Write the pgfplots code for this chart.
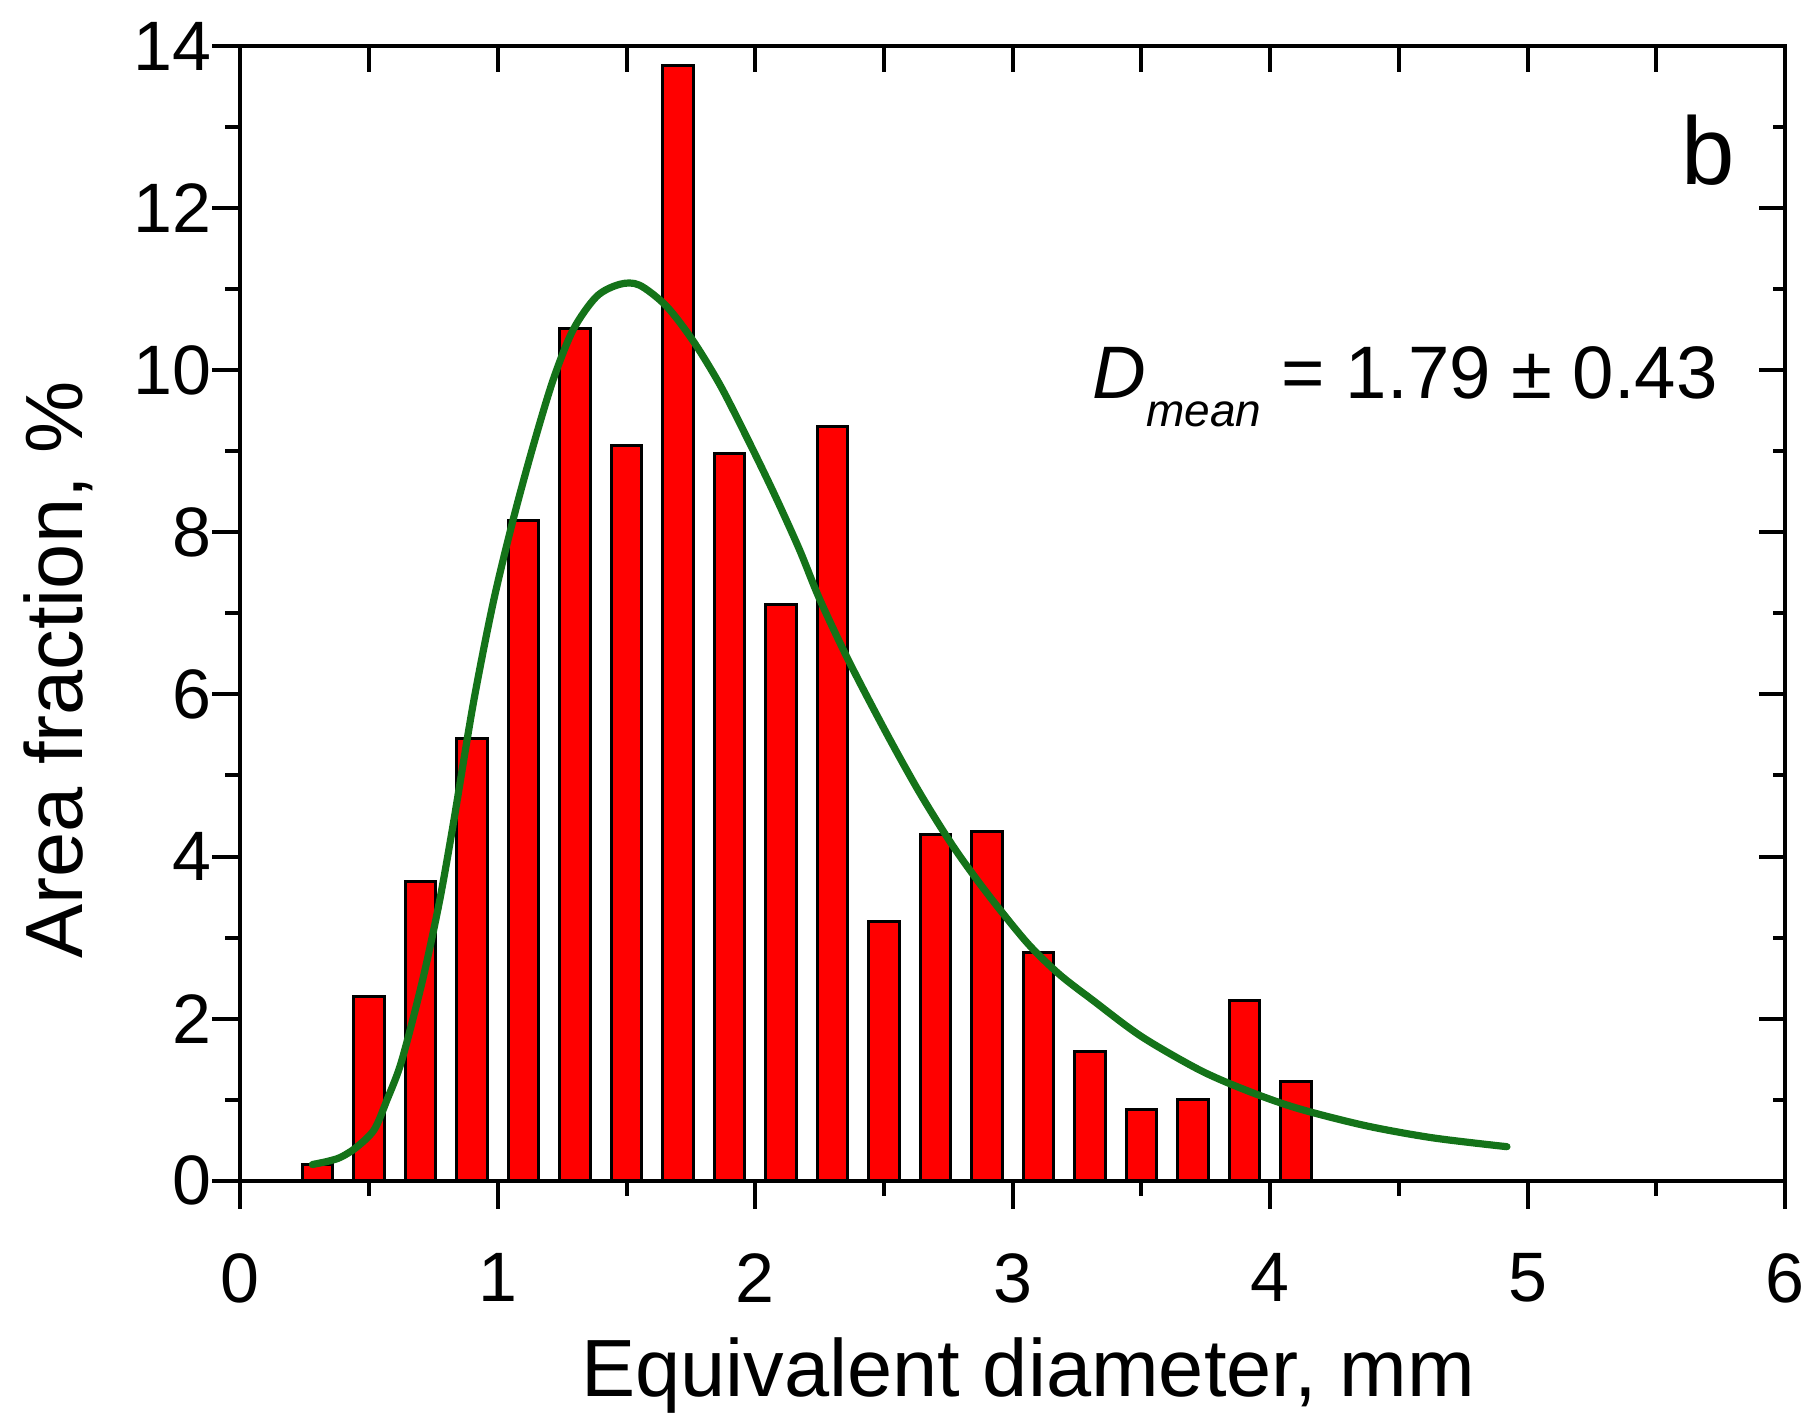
\documentclass[border=0pt]{standalone}
\usepackage{pgfplots}
\pgfplotsset{compat=1.18}
\usepackage{fontspec}
\setmainfont{Liberation Sans}
\definecolor{fitgreen}{RGB}{20,115,25}
\begin{document}
\begin{tikzpicture}
\useasboundingbox (-60.1pt,-58.25pt) rectangle (393pt,295.25pt);
\begin{axis}[
  at={(0,0)}, anchor=south west,
  scale only axis, width=386.25pt, height=283.75pt,
  xmin=0, xmax=6, ymin=0, ymax=14,
  xtick={0,1,...,6}, ytick={0,2,...,14},
  minor x tick num=1, minor y tick num=1,
  xtick pos=left, ytick pos=left,
  tick align=outside,
  major tick length=7pt, minor tick length=3.75pt,
  axis line style={line width=1pt},
  every tick/.style={black, line width=1pt},
  /pgf/number format/assume math mode=true,
  ticklabel style={font=\fontsize{17.5}{17.5}\selectfont, inner sep=0pt},
  xticklabel shift=11pt,
  ylabel={Area fraction, \%},
  label style={font=\fontsize{20.3}{20.3}\selectfont},
  ylabel style={at={(axis description cs:-0.118,0.45)}, anchor=center},
  clip=false,
]
\addplot[ybar, bar width=0.118, fill=red, draw=black, line width=0.75pt] coordinates {
 (0.3,0.20) (0.5,2.27) (0.7,3.69) (0.9,5.45) (1.1,8.14) (1.3,10.52)
 (1.5,9.07) (1.7,13.76) (1.9,8.97) (2.1,7.11) (2.3,9.30) (2.5,3.20)
 (2.7,4.27) (2.9,4.31) (3.1,2.81) (3.3,1.60) (3.5,0.88) (3.7,1.00)
 (3.9,2.22) (4.1,1.23)
};
\addplot[fitgreen, line width=1.8pt, smooth, line join=round, line cap=round] coordinates {
 (0.28,0.20) (0.34,0.24) (0.39,0.29) (0.45,0.41) (0.52,0.63) (0.57,1.00)
 (0.62,1.41) (0.67,1.99) (0.72,2.64) (0.775,3.47) (0.827,4.40) (0.905,5.89)
 (0.982,7.13) (1.06,8.16) (1.137,9.06) (1.215,9.88) (1.293,10.50) (1.384,10.91)
 (1.474,11.06) (1.55,11.05) (1.655,10.79) (1.759,10.36) (1.863,9.82)
 (1.966,9.18) (2.07,8.50) (2.17,7.80) (2.251,7.17) (2.367,6.39) (2.51,5.52)
 (2.64,4.78) (2.77,4.12) (2.90,3.55) (3.055,2.94) (3.18,2.55) (3.31,2.23)
 (3.50,1.78) (3.73,1.36) (3.92,1.10) (4.11,0.89) (4.37,0.68) (4.63,0.53)
 (4.92,0.42)
};
\node[anchor=base, inner sep=0pt, font=\fontsize{24}{24}\selectfont] at (axis cs:5.70,12.29) {b};
\node[anchor=base west, inner sep=0pt, font=\fontsize{18.6}{18.6}\selectfont] at (axis cs:3.307,9.65)
  {\textit{D}\raisebox{-7pt}{\fontsize{11.5}{11.5}\selectfont\itshape mean} = 1.79 ± 0.43};
\end{axis}
\node[anchor=base, inner sep=0pt, font=\fontsize{20.3}{20.3}\selectfont] at (197pt,-54pt) {Equivalent diameter, mm};
\begin{axis}[
  at={(0,0)}, anchor=south west,
  scale only axis, width=386.25pt, height=283.75pt,
  xmin=0, xmax=6, ymin=0, ymax=14,
  xtick={0,0.5,...,6}, ytick={0,2,...,14},
  minor x tick num=0, minor y tick num=1,
  xtick pos=right, ytick pos=right,
  tick align=inside,
  major tick length=6.5pt, minor tick length=3pt,
  axis line style={line width=1pt},
  every tick/.style={black, line width=1pt},
  xticklabels={}, yticklabels={},
]
\end{axis}
\end{tikzpicture}
\end{document}
